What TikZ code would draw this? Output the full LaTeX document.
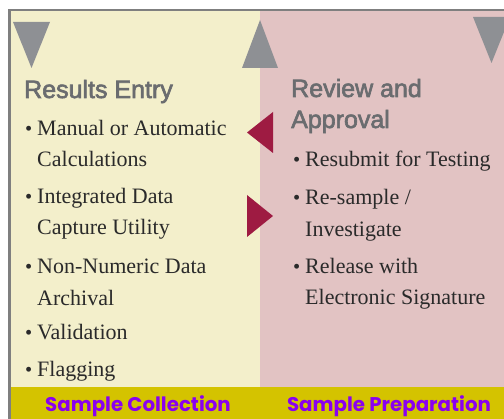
\documentclass[tikz,border=0pt]{standalone}
\usepackage{fontspec}
\setmainfont{Liberation Serif}
\newfontfamily\headfont[FakeBold=2.5]{Liberation Sans}
\newfontfamily\barfont{Poppins}
\definecolor{cream}{HTML}{F3EFCB}
\definecolor{pinkbg}{HTML}{E2C3C3}
\definecolor{barcol}{HTML}{D4C300}
\definecolor{purp}{HTML}{8A00F0}
\definecolor{crim}{HTML}{9E1B42}
\definecolor{trigray}{HTML}{8E9094}
\definecolor{headgray}{HTML}{6A6C6F}
\definecolor{bordergray}{HTML}{7F7F7F}
\definecolor{txt}{HTML}{2A2A2A}
\begin{document}
\begin{tikzpicture}[x=1pt,y=-1pt,
  item/.style={anchor=base west,inner sep=0pt,text=txt,font=\fontsize{22}{24}\selectfont},
  bul/.style={anchor=base west,inner sep=0pt,text=txt,font=\fontsize{20.5}{24}\selectfont},
  head/.style={anchor=base west,inner sep=0pt,text=headgray,font=\headfont\fontsize{25}{30}\selectfont},
  barlbl/.style={anchor=base,inner sep=0pt,text=purp,font=\barfont\bfseries\fontsize{19.8}{22}\selectfont},
  gtri/.style={fill=trigray},
  ctri/.style={fill=crim}]
\useasboundingbox (0,0) rectangle (504,419);
\fill[white] (0,0) rectangle (504,419);
% panels
\fill[cream] (11,10) rectangle (260,387);
\fill[pinkbg] (260,10) rectangle (504,387);
\fill[barcol] (11,387) rectangle (504,419);
\fill[bordergray] (8,9) rectangle (11,419);
\fill[bordergray] (8,9) rectangle (504,11);
% gray triangles
\fill[gtri] (13,22) -- (50,22) -- (31.5,68) -- cycle;
\fill[gtri] (242,68) -- (278,68) -- (260,20) -- cycle;
\fill[gtri] (473,17) -- (510,17) -- (491.5,63) -- cycle;
% crimson triangles
\fill[ctri] (273,112) -- (273,153) -- (247,132.5) -- cycle;
\fill[ctri] (247,195) -- (247,237) -- (273,216) -- cycle;
% headings
\node[head] (h1) at (24,98) {Results Entry};
\node[head] (h2) at (291,97) {Review and};
\node[head] (h3) at (291,128) {Approval};
% left items
\node[bul] (b1) at (25,136) {•};
\node[item] (l1) at (37,136) {Manual or Automatic};
\node[item] (l2) at (37,167) {Calculations};
\node[bul] (b2) at (25,204) {•};
\node[item] (l3) at (37,204) {Integrated Data};
\node[item] (l4) at (37,235) {Capture Utility};
\node[bul] (b3) at (25,274) {•};
\node[item] (l5) at (37,274) {Non-Numeric Data};
\node[item] (l6) at (37,306) {Archival};
\node[bul] (b4) at (25,340) {•};
\node[item] (l7) at (37,340) {Validation};
\node[bul] (b5) at (25,377) {•};
\node[item] (l8) at (37,377) {Flagging};
% right items
\node[bul] (c1) at (293,167) {•};
\node[item] (r1) at (305,167) {Resubmit for Testing};
\node[bul] (c2) at (293,205) {•};
\node[item] (r2) at (305,205) {Re-sample /};
\node[item] (r3) at (305,237) {Investigate};
\node[bul] (c3) at (293,274) {•};
\node[item] (r4) at (305,274) {Release with};
\node[item] (r5) at (305,305) {Electronic Signature};
% bar labels
\node[barlbl] (s1) at (138,412) {Sample Collection};
\node[barlbl] (s2) at (389,412) {Sample Preparation};
\end{tikzpicture}
\end{document}
